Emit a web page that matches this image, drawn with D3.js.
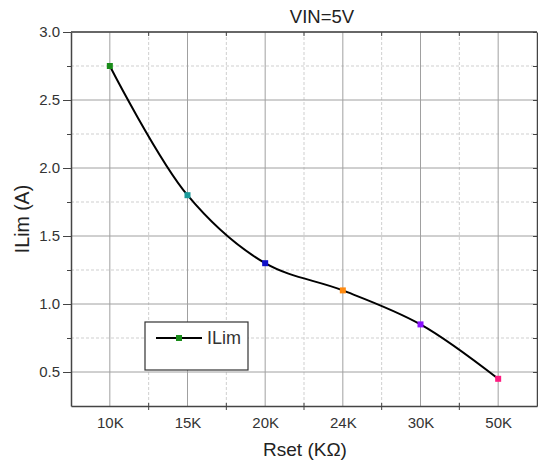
<!DOCTYPE html>
<html>
<head>
<meta charset="utf-8">
<script src="https://cdn.jsdelivr.net/npm/d3@7/dist/d3.min.js"></script>
<style>
  body { margin: 0; background: #fff; }
  svg { font-family: "Liberation Sans", Arial, sans-serif; }
  .tick text { fill: #333; font-size: 15px; }
</style>
</head>
<body>
<div id="chart"></div>
<script>
const categories = ['10K', '15K', '20K', '24K', '30K', '50K'];
const ilimValues = [2.75, 1.8, 1.3, 1.1, 0.85, 0.45];
const pointColors = ['#1a8c1a', '#1a9a9a', '#1010c8', '#ff8a10', '#8a10ff', '#ff1a80'];
const yTicks = [0.5, 1.0, 1.5, 2.0, 2.5, 3.0];
const yMinorTicks = [0.75, 1.25, 1.75, 2.25, 2.75];

const width = 538;
const height = 465;
const margin = { top: 32, right: 1, bottom: 59, left: 71 };
const w = width - margin.left - margin.right;
const h = height - margin.top - margin.bottom;

const svg = d3.select('#chart')
  .append('svg')
  .attr('width', width)
  .attr('height', height);

const g = svg.append('g')
  .attr('transform', `translate(${margin.left},${margin.top})`);

const x = d3.scalePoint().domain(categories).range([0, w]).padding(0.5);
const y = d3.scaleLinear().domain([0.25, 3.0]).range([h, 0]);
const step = x.step();

// minor x positions: boundaries between categories
const xMinor = categories.slice(1).map(c => x(c) - step / 2);

// minor grid (dashed)
g.append('g')
  .selectAll('line')
  .data(xMinor)
  .join('line')
  .attr('x1', d => d).attr('x2', d => d)
  .attr('y1', 0).attr('y2', h)
  .attr('stroke', '#cfcfcf')
  .attr('stroke-dasharray', '3,2');

g.append('g')
  .selectAll('line')
  .data(yMinorTicks)
  .join('line')
  .attr('x1', 0).attr('x2', w)
  .attr('y1', d => y(d)).attr('y2', d => y(d))
  .attr('stroke', '#cfcfcf')
  .attr('stroke-dasharray', '3,2');

// major grid (solid)
g.append('g')
  .selectAll('line')
  .data(categories)
  .join('line')
  .attr('x1', d => x(d)).attr('x2', d => x(d))
  .attr('y1', 0).attr('y2', h)
  .attr('stroke', '#a0a0a0');

g.append('g')
  .selectAll('line')
  .data(yTicks)
  .join('line')
  .attr('x1', 0).attr('x2', w)
  .attr('y1', d => y(d)).attr('y2', d => y(d))
  .attr('stroke', '#a0a0a0');

// left axis
const yAxis = g.append('g')
  .call(d3.axisLeft(y).tickValues(yTicks).tickFormat(d3.format('.1f')).tickSize(8).tickSizeOuter(0).tickPadding(3));
yAxis.select('.domain').attr('stroke', '#444').attr('stroke-width', 1.5);
yAxis.selectAll('.tick line').attr('stroke', '#444');

g.append('g')
  .call(d3.axisLeft(y).tickValues(yMinorTicks).tickFormat('').tickSize(4).tickSizeOuter(0))
  .call(s => s.select('.domain').remove())
  .selectAll('.tick line').attr('stroke', '#444');

// right axis
const yRight = g.append('g')
  .attr('transform', `translate(${w},0)`)
  .call(d3.axisLeft(y).tickValues(yTicks.concat(yMinorTicks)).tickFormat('').tickSize(4).tickSizeOuter(0));
yRight.select('.domain').attr('stroke', '#444').attr('stroke-width', 1.5);
yRight.selectAll('.tick line').attr('stroke', '#444');

// bottom axis: labels at categories, ticks at boundaries
const xAxis = g.append('g')
  .attr('transform', `translate(0,${h})`)
  .call(d3.axisBottom(x).tickSize(0).tickPadding(11));
xAxis.select('.domain').attr('stroke', '#444').attr('stroke-width', 1.5);

g.append('g')
  .selectAll('line')
  .data(xMinor)
  .join('line')
  .attr('x1', d => d).attr('x2', d => d)
  .attr('y1', h - 3).attr('y2', h + 4)
  .attr('stroke', '#444');

// top axis
g.append('line')
  .attr('x1', 0).attr('x2', w)
  .attr('y1', 0).attr('y2', 0)
  .attr('stroke', '#444').attr('stroke-width', 1.5);

g.append('g')
  .selectAll('line')
  .data(xMinor)
  .join('line')
  .attr('x1', d => d).attr('x2', d => d)
  .attr('y1', 0).attr('y2', 4)
  .attr('stroke', '#444');

// curve
const line = d3.line()
  .x((d, i) => x(categories[i]))
  .y(d => y(d))
  .curve(d3.curveCatmullRom.alpha(0.5));

g.append('path')
  .datum(ilimValues)
  .attr('fill', 'none')
  .attr('stroke', '#000')
  .attr('stroke-width', 2)
  .attr('d', line);

g.append('g')
  .selectAll('rect')
  .data(ilimValues)
  .join('rect')
  .attr('x', (d, i) => x(categories[i]) - 3)
  .attr('y', d => y(d) - 3)
  .attr('width', 6)
  .attr('height', 6)
  .attr('fill', (d, i) => pointColors[i]);

// legend
const legend = svg.append('g').attr('transform', 'translate(145,322)');
legend.append('rect')
  .attr('width', 103).attr('height', 48)
  .attr('fill', '#fff')
  .attr('stroke', '#333').attr('stroke-width', 1.2);
legend.append('line')
  .attr('x1', 11).attr('x2', 57)
  .attr('y1', 16).attr('y2', 16)
  .attr('stroke', '#000').attr('stroke-width', 2);
legend.append('rect')
  .attr('x', 31).attr('y', 13).attr('width', 6).attr('height', 6)
  .attr('fill', pointColors[0]);
legend.append('text')
  .attr('x', 62).attr('y', 22)
  .attr('font-size', 18)
  .attr('fill', '#333')
  .text('ILim');

// titles
svg.append('text')
  .attr('x', 322).attr('y', 23)
  .attr('text-anchor', 'middle')
  .attr('font-size', 18.5)
  .attr('fill', '#222')
  .text('VIN=5V');

svg.append('text')
  .attr('x', 305).attr('y', 456)
  .attr('text-anchor', 'middle')
  .attr('font-size', 19)
  .attr('fill', '#222')
  .text('Rset (KΩ)');

svg.append('text')
  .attr('transform', `translate(29,${margin.top + h / 2}) rotate(-90)`)
  .attr('text-anchor', 'middle')
  .attr('font-size', 19.5)
  .attr('fill', '#222')
  .text('ILim (A)');
</script>
</body>
</html>
